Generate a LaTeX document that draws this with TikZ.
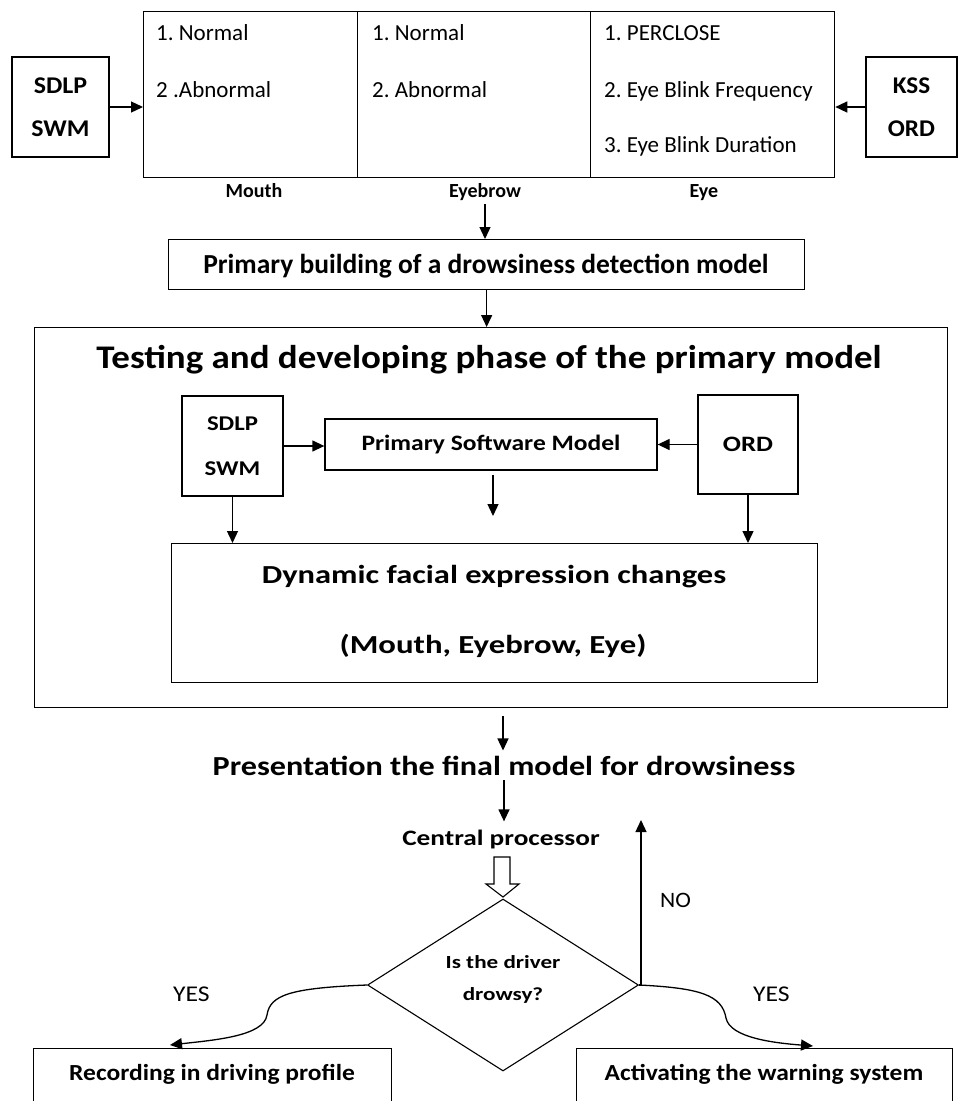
\documentclass[tikz,border=0pt]{standalone}
\usepackage{fontspec}
\usepackage{graphicx}
\setmainfont{Carlito}
\usetikzlibrary{arrows.meta,shapes.geometric,positioning}

\newcommand{\fsz}[1]{\fontsize{#1}{#1}\selectfont}
\newcommand{\hx}[2]{\scalebox{#1}[1]{#2}}

\tikzset{
  box/.style={draw, line width=1.3pt, inner sep=0pt, anchor=north west},
  cbox/.style={draw, line width=1.3pt, inner sep=0pt, align=center},
  txt/.style={inner sep=0pt, anchor=base west},
  ctxt/.style={inner sep=0pt, anchor=base},
  arr/.style={-{Triangle[length=12pt,width=11pt]}, line width=1.3pt},
}

\begin{document}
\frenchspacing
\begin{tikzpicture}[x=1pt,y=-1pt]
\useasboundingbox (0,0) rectangle (959,1101);
\clip (0,0) rectangle (959,1101);

% facial features
\node[box, minimum width=214pt, minimum height=166pt] (mouth) at (143,11) {};
\node[box, minimum width=233pt, minimum height=166pt] (brow) at (357,11) {};
\node[box, minimum width=244pt, minimum height=166pt] (eye) at (590,11) {};

\node[txt, font=\fsz{23}] (m1) at (156,40) {1. Normal};
\node[txt, font=\fsz{23}] (m2) at (156,97) {2 .Abnormal};
\node[txt, font=\fsz{23}] (b1) at (372,40) {1. Normal};
\node[txt, font=\fsz{23}] (b2) at (372,97) {2. Abnormal};
\node[txt, font=\fsz{23}] (e1) at (604,40) {1. PERCLOSE};
\node[txt, font=\fsz{23}] (e2) at (604,97) {2. Eye Blink Frequency};
\node[txt, font=\fsz{23}] (e3) at (604,152) {3. Eye Blink Duration};

\node[ctxt, font=\bfseries\fsz{20}] (mouthlbl) at (254,197) {Mouth};
\node[ctxt, font=\bfseries\fsz{20}] (browlbl) at (485,197) {Eyebrow};
\node[ctxt, font=\bfseries\fsz{20}] (eyelbl) at (704,197) {Eye};

\node[cbox, minimum width=97pt, minimum height=100pt, font=\bfseries\fontsize{24}{43}\selectfont] (sdlp) at (60.5,107) {\hx{1.08}{SDLP}\\\hx{1.08}{SWM}};
\node[cbox, minimum width=91pt, minimum height=100pt, font=\bfseries\fontsize{24}{43}\selectfont] (kss) at (911.5,107) {\hx{1.05}{KSS}\\\hx{1.05}{ORD}};

\draw[arr] (sdlp.east) -- (sdlp.east -| mouth.west);
\draw[arr] (kss.west) -- (kss.west -| eye.east);

% primary model
\node[box, minimum width=636pt, minimum height=50pt] (build) at (168,239) {};
\node[ctxt, font=\bfseries\fsz{27.5}] (buildtxt) at (486,273) {Primary building of a drowsiness detection model};
\draw[arr, shorten <=4pt] (browlbl.south) -- (browlbl.south |- build.north);

% testing phase
\node[box, minimum width=913pt, minimum height=380pt] (test) at (34,327) {};
\draw[arr] (build.south) -- (build.south |- test.north);
\node[ctxt, font=\bfseries\fsz{33}] (testtxt) at (489,368) {\hx{1.12}{Testing and developing phase of the primary model}};

\node[cbox, minimum width=101pt, minimum height=100pt, font=\bfseries\fontsize{21}{45}\selectfont] (sdlpb) at (232.5,446) {\hx{1.18}{SDLP}\\\hx{1.18}{SWM}};
\node[cbox, minimum width=332pt, minimum height=51pt, font=\bfseries\fsz{22}] (psm) at (491,444.5) {\hx{1.16}{Primary Software Model}};
\node[cbox, minimum width=100pt, minimum height=99pt, font=\bfseries\fsz{22}] (ord) at (748,444.5) {\hx{1.22}{ORD}};
\node[box, minimum width=646pt, minimum height=139pt] (dfe) at (171,543) {};
\node[ctxt, font=\bfseries\fsz{26}] (dfe1) at (494,583) {\hx{1.25}{Dynamic facial expression changes}};
\node[ctxt, font=\bfseries\fsz{26}] (dfe2) at (493,653) {\hx{1.26}{(Mouth, Eyebrow, Eye)}};

\draw[arr] (sdlpb.east) -- (sdlpb.east -| psm.west);
\draw[arr] (ord.west) -- (ord.west -| psm.east);
\coordinate (psmend) at (493,516);
\draw[arr, shorten <=4pt] (psm.south -| psmend) -- (psmend);
\draw[arr] (sdlpb.south) -- (sdlpb.south |- dfe.north);
\draw[arr] (ord.south) -- (ord.south |- dfe.north);

% final model
\coordinate (testout) at (503,716);
\node[ctxt, font=\bfseries\fsz{27.5}] (pres) at (504,775) {\hx{1.17}{Presentation the final model for drowsiness}};
\draw[arr, shorten >=5pt] (testout) -- (testout |- pres.north);
\node[ctxt, font=\bfseries\fsz{22}] (cpu) at (501,845) {\hx{1.24}{Central processor}};
\draw[arr, shorten <=5pt, shorten >=8pt] (pres.south) -- (pres.south |- cpu.north);

% hollow arrow
\draw[line width=1.1pt] (494,857) -- (510,857) -- (510,884) -- (519,884) -- (503,897) -- (486,884) -- (494,884) -- cycle;

% decision
\node[diamond, draw, line width=1.1pt, minimum width=271pt, minimum height=172pt, aspect=1.6, inner sep=0pt] (dia) at (503,985) {};
\node[ctxt, font=\bfseries\fsz{18.5}] (dia1) at (503,968) {\hx{1.25}{Is the driver}};
\node[ctxt, font=\bfseries\fsz{18.5}] (dia2) at (503,1000) {\hx{1.25}{drowsy?}};

\coordinate (notop) at (641,820);
\draw[arr] (dia.east) -| (notop);
\node[txt, font=\fsz{22}] (no) at (660,907) {\hx{1.07}{NO}};

\coordinate (recin) at (170,1045);
\coordinate (actin) at (813,1046);
\draw[arr] (dia.west) .. controls (290,988) and (270,995) .. (267,1015) .. controls (264,1036) and (215,1040) .. (recin);
\draw[arr] (dia.east) .. controls (700,988) and (722,995) .. (726,1018) .. controls (730,1038) and (775,1043) .. (actin);
\node[txt, font=\fsz{22.5}] (yesl) at (173,1001) {\hx{1.14}{YES}};
\node[txt, font=\fsz{22.5}] (yesr) at (753,1001) {\hx{1.14}{YES}};

% outcomes
\node[box, minimum width=358pt, minimum height=80pt] (rec) at (33,1048) {};
\node[ctxt, font=\bfseries\fsz{23}] (rectxt) at (212,1080) {\hx{1.11}{Recording in driving profile}};
\node[box, minimum width=376pt, minimum height=80pt] (act) at (576,1048) {};
\node[ctxt, font=\bfseries\fsz{23}] (acttxt) at (764,1080) {\hx{1.11}{Activating the warning system}};

\end{tikzpicture}
\end{document}
